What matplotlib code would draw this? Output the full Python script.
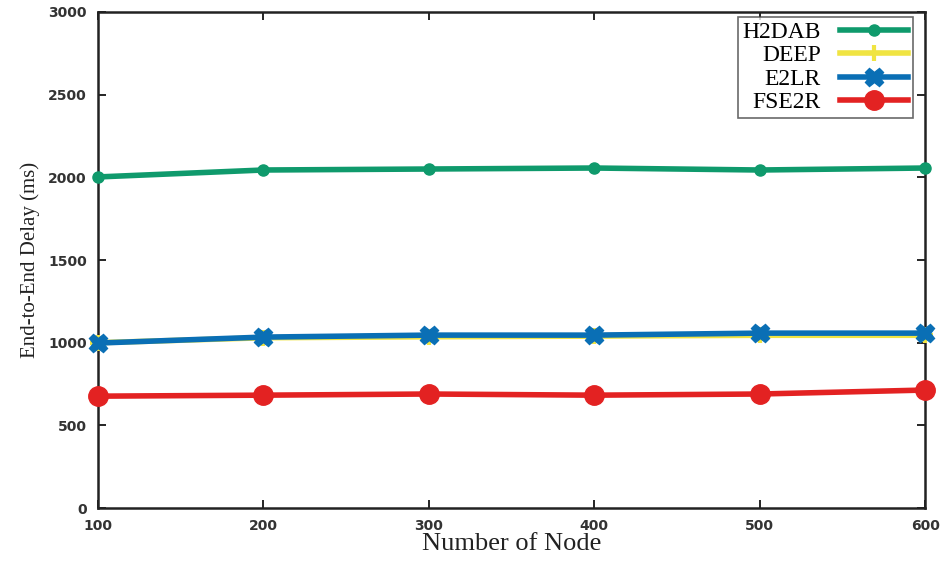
import matplotlib
matplotlib.use("Agg")
import matplotlib.pyplot as plt

nodes = [100, 200, 300, 400, 500, 600]
h2dab = [2002, 2044, 2050, 2056, 2044, 2056]
deep = [1000, 1030, 1036, 1040, 1045, 1045]
e2lr = [998, 1034, 1046, 1046, 1058, 1058]
fse2r = [677, 683, 690, 683, 690, 714]

fig = plt.figure(figsize=(9.5, 5.64), dpi=100)
ax = fig.add_axes([0.103, 0.099, 0.871, 0.880])

ax.plot(nodes, h2dab, color='#0f9a6c', lw=4, marker='o', ms=8, label='H2DAB', clip_on=False, zorder=3)
ax.plot(nodes, deep, color='#f0e442', lw=4, marker='+', ms=12, mew=3, label='DEEP', clip_on=False, zorder=3)
ax.plot(nodes, e2lr, color='#0a6fb5', lw=4, marker='X', ms=13, label='E2LR', clip_on=False, zorder=4)
ax.plot(nodes, fse2r, color='#e32222', lw=4, marker='o', ms=14, label='FSE2R', clip_on=False, zorder=3)

ax.set_xlim(100, 600)
ax.set_ylim(0, 3000)
ax.set_xticks(nodes)
ax.set_yticks(range(0, 3001, 500))
ax.tick_params(direction='in', top=True, right=True, length=6, width=1.2,
               labelsize=10, labelcolor='#333333', pad=8)
for lab in ax.get_xticklabels() + ax.get_yticklabels():
    lab.set_fontweight('bold')
for s in ax.spines.values():
    s.set_linewidth(1.8)
    s.set_color('#222222')

ax.set_xlabel('Number of Node', family='Liberation Serif', fontsize=19, labelpad=0, color='#222222')
ax.set_ylabel('End-to-End Delay (ms)', family='Liberation Serif', fontsize=15, labelpad=6,
              color='#222222')

leg = ax.legend(loc='upper right', markerfirst=False, prop={'family': 'Liberation Serif', 'size': 17},
                fancybox=False, edgecolor='#444444', handlelength=2.9, borderpad=0.2,
                labelspacing=0.08, handletextpad=0.8, borderaxespad=0,
                bbox_to_anchor=(0.985, 0.99))
leg.get_frame().set_linewidth(1.2)
for t in leg.get_texts():
    t.set_ha('right')
leg._legend_box.align = 'right'

fig.savefig('out.png', dpi=100)
